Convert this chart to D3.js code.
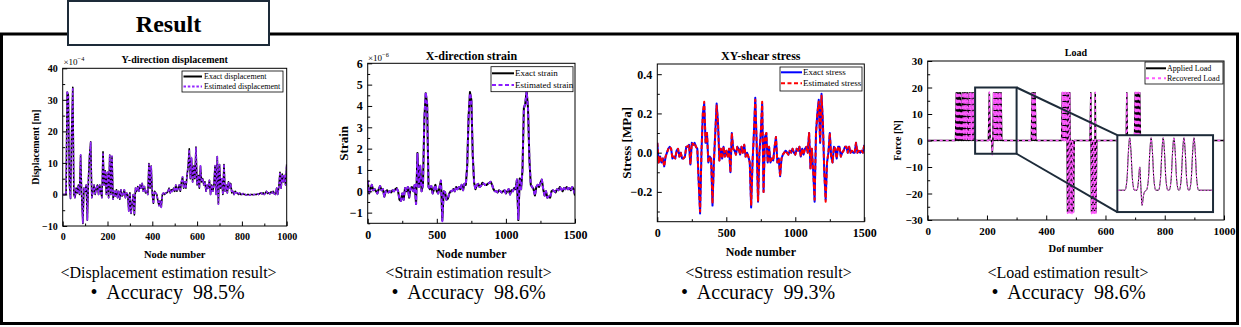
<!DOCTYPE html>
<html>
<head>
<meta charset="utf-8" />
<title>result</title>
<style>
html, body { margin:0; padding:0; background:#ffffff; }
svg { display:block; font-family:'Liberation Serif','Times New Roman',serif; }
</style>
</head>
<body>
<script src="https://cdn.jsdelivr.net/npm/d3@7"></script>
<script>

//=======================================
// data
//=======================================

// Y-direction displacement (x1e-4 m), node step 5, 0..1000
const dispNode = d3.range(0, 1001, 5);
const dispExact = [
  0,0,0,0,32.5,31.5,3,-1.3,20,34,
  0,-1,2,0.5,3,0,12.5,-1,-9.2,2,
  1,3,-8.2,5,12.5,16.7,-1,1,3,0,
  2,3,0,3,1,-1,13.5,3,7.5,0,
  7,-1,12.5,0,12,-1.5,1,-0.5,1.5,-1,
  1,-1.5,1.5,-0.5,0,1.5,-1,0.5,0,-5.2,
  0.5,-6,-3,0,-6.5,2,1,2.5,1,3,
  2,3.5,1,2.5,0.5,1,0,9.8,2,9,
  0,-2.8,1,0.5,0,-2,-3.5,-2,-4,0,
  0.5,0,0.5,0.5,1,2,0.5,1.5,1,2,
  1,3,1,2,3,1,4,5.5,2,4,
  2,6,9,14.5,5,11.5,4,9,5,15,
  3,6,2,9,4,5,3,4,1,3,
  2,4.5,0,3,1,3,9,0,12,-3,
  9.5,2,5,0,9.5,1,3,0.5,4,2,
  3.5,0.5,1,0,1,0.5,0.5,0,0.5,0,
  0,0.3,0,0,-0.2,0,0,-0.2,0,0,
  -0.1,0,0,0,0.2,0,0.3,0.5,0.2,0.5,
  0,0.5,1,0.3,0.5,0.2,0.8,0.5,1,0.2,
  0,2,0,2.5,7,2,6.5,4,6,3,
  9.5
];
const dispEstimated = [
  0,0,0,0,32.8,31.2,3.2,-1.4,20.3,33.9,
  0,-1,2,0.5,3,0,12.6,-1,-9,2,
  1,3,-8.1,5,12.4,16.5,-1,1,3,0,
  2,3,0,3,1,-1,13.3,3,7.6,0,
  7,-1,12.4,0,12.2,-1.5,1,-0.5,1.5,-1,
  1,-1.5,1.5,-0.5,0,1.5,-1,0.5,0,-5.3,
  0.5,-6.1,-3,0,-6.4,2,1,2.5,1,3,
  2,3.5,1,2.5,0.5,1,0,9.6,2,9.1,
  0,-2.9,1,0.5,0,-2,-3.6,-2,-4.1,0,
  0.5,0,0.5,0.5,1,2,0.5,1.5,1,2,
  1,3,1,2,3,1,4,5.6,2,4,
  2,6,9,14.2,5,11.7,4,9,5,14.8,
  3,6,2,9.1,4,5,3,4,1,3,
  2,4.5,0,3,1,3,9.2,0,12.2,-3.1,
  9.4,2,5,0,9.6,1,3,0.5,4,2,
  3.5,0.5,1,0,1,0.5,0.5,0,0.5,0,
  0,0.3,0,0,-0.2,0,0,-0.2,0,0,
  -0.1,0,0,0,0.2,0,0.3,0.5,0.2,0.5,
  0,0.5,1,0.3,0.5,0.2,0.8,0.5,1,0.2,
  0,2,0,2.6,7.1,2,6.4,4,6,3,
  9.6
];

// X-direction strain (x1e-6), node step 10, 0..1500
const strainNode = d3.range(0, 1501, 10);
const strainExact = [
  0.5,-0.1,0.1,0.3,0.05,0.1,0,-0.1,0.1,0.25,
  0.05,0.1,-0.25,0,0.05,-0.05,0,-0.05,0.05,0,
  0.1,0.15,0,-0.4,-0.45,-0.1,-0.4,0.15,0,0.2,
  -0.3,0.15,0.2,0,0.3,-0.6,1.8,0.2,1.2,0,
  0.3,3.4,4.6,4.1,0.2,0.1,0.25,-0.1,0.1,0.3,
  0,-0.1,0.2,0.5,-1.35,0,-0.05,-0.4,-0.35,-0.1,
  0,0,0.1,0,0.2,0.1,0.2,0.1,0.3,0.05,
  0.35,0.3,1.2,3.5,4.65,4.3,1.7,0.4,0.1,0.3,
  0.35,0.2,0.25,0.4,0.35,0.3,0.3,0.35,0.4,0.45,
  0.3,0.1,0,0,-0.05,0.05,0,-0.05,0,0.05,
  -0.1,0,0.1,-0.15,0.05,0,0.15,0.1,0.55,-1.35,
  0.6,0.1,1.0,3.9,4.1,4.7,3.9,1.5,0.3,0.2,
  0.1,-0.2,0.2,0.3,0.2,0.4,0.55,0.1,-0.2,0,
  -0.3,-0.25,-0.3,0,0.05,0,-0.05,0.1,0.05,0.2,
  0.1,0,0.15,0.1,0.2,0.1,0.15,0.05,0.2,0.1,
  -0.2
];
const strainEstimated = [
  0.5,-0.1,0.1,0.3,0.05,0.1,0,-0.1,0.1,0.25,
  0.05,0.1,-0.25,0,0.05,-0.05,0,-0.05,0.05,0,
  0.1,0.15,0,-0.4,-0.45,-0.1,-0.4,0.15,0,0.2,
  -0.3,0.15,0.2,0,0.3,-0.6,1.75,0.2,1.2,0,
  0.3,3.4,4.65,4.1,0.2,0.1,0.25,-0.1,0.1,0.3,
  0,-0.1,0.2,0.5,-1.4,0,-0.05,-0.4,-0.35,-0.1,
  0,0,0.1,0,0.2,0.1,0.2,0.1,0.3,0.05,
  0.35,0.3,1.2,3.5,4.6,4.3,1.7,0.4,0.1,0.3,
  0.35,0.2,0.25,0.4,0.35,0.3,0.3,0.35,0.4,0.45,
  0.3,0.1,0,0,-0.05,0.05,0,-0.05,0,0.05,
  -0.1,0,0.1,-0.15,0.05,0,0.15,0.1,0.55,-1.3,
  0.6,0.1,1.0,3.9,4.1,4.68,3.9,1.5,0.3,0.2,
  0.1,-0.2,0.2,0.3,0.2,0.4,0.55,0.1,-0.2,0,
  -0.3,-0.25,-0.3,0,0.05,0,-0.05,0.1,0.05,0.2,
  0.1,0,0.15,0.1,0.2,0.1,0.15,0.05,0.2,0.1,
  -0.2
];

// XY-shear stress (MPa), node step 10, 0..1500
const stressNode = d3.range(0, 1501, 10);
const stressExact = [
  0.05,-0.05,-0.02,-0.05,-0.03,-0.07,-0.02,0,0.02,0.03,
  0.02,-0.03,-0.02,-0.03,0.01,0.02,-0.02,0,-0.03,-0.03,
  -0.02,0.03,0.03,0.04,-0.06,0.05,0.04,0.05,0.03,0.02,
  -0.15,-0.31,0,0.2,0.25,0.05,0.1,-0.05,-0.02,-0.03,
  -0.27,-0.05,0.1,0.25,0.15,-0.04,0.02,-0.03,0.03,-0.02,
  0.01,-0.02,0.02,-0.1,0.1,0.02,0.01,-0.01,0.03,0.02,
  -0.01,0.03,0,0.04,-0.02,0,-0.02,-0.05,-0.28,-0.05,
  0.1,0.28,0.05,-0.25,0,0.1,0.25,-0.2,0.08,0.1,
  -0.05,0.03,-0.05,-0.03,-0.04,0.03,0.08,-0.05,-0.03,-0.12,
  -0.03,-0.01,0,0.01,0,-0.01,0.01,0,0.02,0,
  -0.01,0.02,0.01,0.03,-0.02,0.02,-0.01,0.02,0.03,0,
  0.1,-0.08,0.02,-0.1,-0.25,0.1,0.2,0.27,0.05,0.3,
  0.15,-0.1,-0.24,-0.05,0,0.1,-0.02,-0.05,0.03,0.02,
  -0.03,0.03,0.03,-0.02,0,0.01,0.03,0.03,0,0.03,
  0,0.01,0,0,0.05,0,0.01,0,0.01,0,
  0.04
];
const stressEstimated = [
  0.05,-0.05,-0.02,-0.05,-0.03,-0.07,-0.02,0,0.02,0.03,
  0.02,-0.03,-0.02,-0.03,0.01,0.02,-0.02,0,-0.03,-0.03,
  -0.02,0.03,0.03,0.04,-0.06,0.05,0.04,0.05,0.03,0.02,
  -0.15,-0.3,0,0.2,0.26,0.05,0.1,-0.05,-0.02,-0.03,
  -0.26,-0.05,0.1,0.24,0.15,-0.04,0.02,-0.03,0.03,-0.02,
  0.01,-0.02,0.02,-0.1,0.1,0.02,0.01,-0.01,0.03,0.02,
  -0.01,0.03,0,0.04,-0.02,0,-0.02,-0.05,-0.27,-0.05,
  0.1,0.27,0.05,-0.25,0,0.1,0.26,-0.2,0.08,0.1,
  -0.05,0.03,-0.05,-0.03,-0.04,0.03,0.08,-0.05,-0.03,-0.12,
  -0.03,-0.01,0,0.01,0,-0.01,0.01,0,0.02,0,
  -0.01,0.02,0.01,0.03,-0.02,0.02,-0.01,0.02,0.03,0,
  0.1,-0.08,0.02,-0.1,-0.24,0.1,0.2,0.26,0.05,0.29,
  0.15,-0.1,-0.25,-0.05,0,0.1,-0.02,-0.05,0.03,0.02,
  -0.03,0.03,0.03,-0.02,0,0.01,0.03,0.03,0,0.03,
  0,0.01,0,0,0.05,0,0.01,0,0.01,0,
  0.04
];

// Load (N) by dof
const loadDof = [
  0, 94,96.5,99,101.5,104,106.5,109,111.5,114,
  116,118.5,121,123.5,126,128.5,131,133.5,136,
  137.5,140,142.5,145,147.5,150,152.5,155,157.5,
  205,208,211,216,218,220,222.5,225,227.5,230,232.5,235,237.5,240,242.5,245,247.5,250,
  350,352.5,355,357.5,360,362.5,365,
  452,454.5,457,459.5,462,464.5,467,469.5,472,474.5,477,479.5,482,484.5,487,489.5,492,494.5,
  548,550.5,553,555.5,558,560.5,563,565.5,568,570.5,
  670,672,674,
  698,700.5,703,705.5,708,710.5,713,715.5,718,
  1000
];
const loadApplied = [
  0, 0,18,0,18,0,18,0,18,0,
  0,18,0,18,0,18,0,18,0,
  0,18,0,18,0,18,0,18,0,
  0,18,0,0,-5,0,18,0,18,0,18,0,18,0,18,0,18,0,
  0,18,0,18,0,18,0,
  0,18,0,18,0,18,0,18,-27,18,-27,18,-27,0,-27,0,-27,0,
  0,18,-27,0,-27,0,-27,18,-27,0,
  0,18,0,
  0,18,0,18,0,18,0,18,0,
  0
];
const loadRecovered = [
  0, 0,18.2,0,18.1,0,18.2,0,18,0,
  0,18.2,0,18.1,0,18.2,0,18,0,
  0,18.1,0,18.2,0,18,0,18.2,0,
  0,18.3,0,0,-5.4,0,18.2,0,18.1,0,18.2,0,18,0,18.2,0,18.1,0,
  0,18.2,0,18.1,0,18.2,0,
  0,18.2,0,18.1,0,18.2,0,18,-27.5,18.1,-27.8,18.2,-27.4,0,-27.6,0,-27.8,0,
  0,18.3,-27.6,0,-27.9,0,-27.5,18.2,-27.8,0,
  0,18.3,0,
  0,18.2,0,18.1,0,18.2,0,18,0,
  0
];

// zoomed part of the load (inset)
const insetDof = [160,170,173,175,177,179,181,184,
  188,190,192,193.5,195.5,197.5,199.5,202,
  205,207,209,211,213,216,
  220,223,225,227,229,231,234,
  236,239,241,243,245,247,250,
  251,254,256,258,260,262,265,
  266,269,271,273,275,277,280,300];
const insetForce = [0,0,4,13,18,13,4,0,
  0,3,8,2,-5.2,-2,-0.4,0,
  4,13,18,13,4,0,
  0,4,13,18,13,4,0,
  0,4,13,18,13,4,0,
  0,4,13,18,13,4,0,
  0,4,13,18,13,4,0,0];

const captions = ['<Displacement estimation result>', '<Strain estimation result>', '<Stress estimation result>', '<Load estimation result>'];
const accuracy = ['98.5%', '98.6%', '99.3%', '98.6%'];


//=======================================
// page frame
//=======================================

const svg = d3.select('body').append('svg')
  .attr('width', 1241).attr('height', 327);

svg.append('rect')
  .attr('x', 1.5).attr('y', 34).attr('width', 1236).attr('height', 289.5)
  .attr('fill', 'none').attr('stroke', '#000').attr('stroke-width', 3);

svg.append('rect')
  .attr('x', 68).attr('y', 1).attr('width', 201).attr('height', 44)
  .attr('fill', '#fff').attr('stroke', '#1d2b39').attr('stroke-width', 2);

svg.append('text')
  .attr('x', 168.5).attr('y', 32).attr('text-anchor', 'middle')
  .attr('font-size', 24).attr('font-weight', 'bold').text('Result');


//=======================================
// panels
//=======================================

const panels = [
  {
    key: 'disp', left: 62.7, right: 286.7, top: 68.3, bottom: 226,
    xDomain: [0, 1000], xTicks: [0,200,400,600,800,1000], xMinor: [100,300,500,700,900],
    yDomain: [-10, 40], yTicks: [-10,0,10,20,30,40], yMinor: [-5,5,15,25,35], yFormat: d3.format('d'),
    tickFont: 10, title: 'Y-direction displacement', titleSize: 10, titleY: 63,
    xLabel: 'Node number', xLabelSize: 10.5, xLabelY: 258,
    yLabel: 'Displacement [m]', yLabelSize: 10, yLabelX: 35,
    expo: '\u22124', expoX: 63.5, expoY: 65, expoSize: 9,
    series: [
      {x: dispNode, y: dispExact, color: '#000', width: 1.6},
      {x: dispNode, y: dispEstimated, color: '#9326ff', width: 1.6, dash: '2.5 1.8'}
    ],
    legend: {x: 182, y: 71, w: 101, h: 21, rows: [76.5, 86.5], lineX: [183.5, 202], textX: 204, size: 8,
      labels: ['Exact displacement', 'Estimated displacement']}
  },
  {
    key: 'strain', left: 367.7, right: 575, top: 63.3, bottom: 223.3,
    xDomain: [0, 1500], xTicks: [0,500,1000,1500], xMinor: [250,750,1250],
    yDomain: [-1.5, 6], yTicks: [-1,0,1,2,3,4,5,6], yMinor: [-1.5,-0.5,0.5,1.5,2.5,3.5,4.5,5.5], yFormat: d3.format('d'),
    tickFont: 12, title: 'X-direction strain', titleSize: 12, titleY: 60,
    xLabel: 'Node number', xLabelSize: 12, xLabelY: 258,
    yLabel: 'Strain', yLabelSize: 13, yLabelX: 343,
    expo: '\u22126', expoX: 368, expoY: 61, expoSize: 9,
    series: [
      {x: strainNode, y: strainExact, color: '#000', width: 2},
      {x: strainNode, y: strainEstimated, color: '#8a1cff', width: 2, dash: '4 2.5'}
    ],
    legend: {x: 491, y: 66.7, w: 82, h: 25, rows: [73.3, 85], lineX: [492, 514], textX: 515, size: 9,
      labels: ['Exact strain', 'Estimated strain']}
  },
  {
    key: 'stress', left: 657.3, right: 864.3, top: 64, bottom: 221.7,
    xDomain: [0, 1500], xTicks: [0,500,1000,1500], xMinor: [250,750,1250],
    yDomain: [-0.352, 0.452], yTicks: [-0.2,0,0.2,0.4], yMinor: [-0.3,-0.1,0.1,0.3], yFormat: d3.format('.1f'),
    tickFont: 12, title: 'XY-shear stress', titleSize: 12, titleY: 60,
    xLabel: 'Node number', xLabelSize: 12, xLabelY: 256,
    yLabel: 'Stress [MPa]', yLabelSize: 13, yLabelX: 626,
    series: [
      {x: stressNode, y: stressExact, color: '#0000ff', width: 2},
      {x: stressNode, y: stressEstimated, color: '#ff0000', width: 2, dash: '4 2.5'}
    ],
    legend: {x: 780, y: 67, w: 82, h: 24, rows: [72.3, 83.3], lineX: [781, 802], textX: 803, size: 9,
      labels: ['Exact stress', 'Estimated stress']}
  },
  {
    key: 'load', left: 927.7, right: 1224, top: 61, bottom: 220,
    xDomain: [0, 1000], xTicks: [0,200,400,600,800,1000], xMinor: [100,300,500,700,900],
    yDomain: [-30, 30], yTicks: [-30,-20,-10,0,10,20,30], yMinor: [-25,-15,-5,5,15,25], yFormat: d3.format('d'),
    tickFont: 11, title: 'Load', titleSize: 10, titleY: 56,
    xLabel: 'Dof number', xLabelSize: 10.5, xLabelY: 252,
    yLabel: 'Force [N]', yLabelSize: 10, yLabelX: 897,
    series: [
      {x: loadDof, y: loadApplied, color: '#000', width: 1.5},
      {x: loadDof, y: loadRecovered, color: '#ff5cff', width: 1.4, dash: '3 3'}
    ],
    legend: {x: 1145, y: 62, w: 78, h: 22, rows: [68.3, 78.3], lineX: [1146, 1166], textX: 1167, size: 8,
      labels: ['Applied Load', 'Recovered Load']},
    inset: true
  }
];

panels.forEach(drawPanel);

// captions
const capX = [168.5, 468.6, 768.5, 1068],
      accX = [167.5, 468.5, 758, 1068.5];

svg.append('g').selectAll('text').data(captions).enter()
  .append('text')
    .attr('x', (d,i)=>capX[i]).attr('y', 278)
    .attr('text-anchor', 'middle').attr('font-size', 16)
    .text(d=>d);

svg.append('g').selectAll('text').data(accuracy).enter()
  .append('text')
    .attr('x', (d,i)=>accX[i]).attr('y', 299)
    .attr('text-anchor', 'middle').attr('font-size', 20)
    .style('white-space', 'pre')
    .text(d=>'\u2022  Accuracy  ' + d);


//====================================================================================
//
//====================================================================================

function drawPanel(p) {

  let x = d3.scaleLinear().domain(p.xDomain).range([p.left, p.right]),
      y = d3.scaleLinear().domain(p.yDomain).range([p.bottom, p.top]);

  let g = svg.append('g').attr('class', p.key);

  g.append('clipPath').attr('id', 'clip-' + p.key)
    .append('rect')
      .attr('x', p.left).attr('y', p.top)
      .attr('width', p.right - p.left).attr('height', p.bottom - p.top);

  // lines
  let plot = g.append('g').attr('clip-path', 'url(#clip-' + p.key + ')');
  p.series.forEach(s => {
    plot.append('path')
      .attr('d', d3.line().x((d,i)=>x(s.x[i])).y(d=>y(d))(s.y))
      .attr('fill', 'none')
      .attr('stroke', s.color)
      .attr('stroke-width', s.width)
      .attr('stroke-linejoin', 'round')
      .attr('stroke-dasharray', s.dash || null);
  });

  if (p.inset) drawInset(g, x, y);

  // frame
  g.append('rect')
    .attr('x', p.left).attr('y', p.top)
    .attr('width', p.right - p.left).attr('height', p.bottom - p.top)
    .attr('fill', 'none').attr('stroke', '#000').attr('stroke-width', 1);

  // axes
  let styleAxis = sel => {
    sel.select('.domain').remove();
    sel.attr('font-family', null).attr('font-size', p.tickFont).attr('font-weight', 'bold');
    sel.selectAll('text').attr('fill', '#000');
    sel.selectAll('line').attr('stroke', '#000');
  };

  g.append('g').attr('transform', 'translate(0,' + p.bottom + ')')
    .call(d3.axisBottom(x).tickValues(p.xMinor).tickSize(-2.5).tickFormat(''))
    .call(styleAxis);
  g.append('g').attr('transform', 'translate(0,' + p.bottom + ')')
    .call(d3.axisBottom(x).tickValues(p.xTicks).tickSize(-4.5).tickPadding(7).tickFormat(d3.format('d')))
    .call(styleAxis);
  g.append('g').attr('transform', 'translate(' + p.left + ',0)')
    .call(d3.axisLeft(y).tickValues(p.yMinor).tickSize(-2.5).tickFormat(''))
    .call(styleAxis);
  g.append('g').attr('transform', 'translate(' + p.left + ',0)')
    .call(d3.axisLeft(y).tickValues(p.yTicks).tickSize(-4.5).tickPadding(5).tickFormat(p.yFormat))
    .call(styleAxis);

  // titles
  g.append('text')
    .attr('x', (p.left + p.right) / 2).attr('y', p.titleY)
    .attr('text-anchor', 'middle').attr('font-weight', 'bold').attr('font-size', p.titleSize)
    .text(p.title);

  g.append('text')
    .attr('x', (p.left + p.right) / 2).attr('y', p.xLabelY)
    .attr('text-anchor', 'middle').attr('font-weight', 'bold').attr('font-size', p.xLabelSize)
    .text(p.xLabel);

  g.append('text')
    .attr('transform', 'translate(' + [p.yLabelX, (p.top + p.bottom) / 2] + ') rotate(-90)')
    .attr('dy', '0.35em')
    .attr('text-anchor', 'middle').attr('font-weight', 'bold').attr('font-size', p.yLabelSize)
    .text(p.yLabel);

  if (p.expo) {
    g.append('text')
      .attr('x', p.expoX).attr('y', p.expoY).attr('font-size', p.expoSize)
      .call(t => {
        t.append('tspan').text('\u00d710');
        t.append('tspan').attr('font-size', p.expoSize * 0.7).attr('dy', -4).text(p.expo);
      });
  }

  // legend
  let L = p.legend;
  g.append('rect')
    .attr('x', L.x).attr('y', L.y).attr('width', L.w).attr('height', L.h)
    .attr('fill', '#fff').attr('stroke', '#000').attr('stroke-width', 0.8);

  L.rows.forEach((ry, i) => {
    let s = p.series[i];
    g.append('line')
      .attr('x1', L.lineX[0]).attr('x2', L.lineX[1]).attr('y1', ry).attr('y2', ry)
      .attr('stroke', s.color).attr('stroke-width', 2)
      .attr('stroke-dasharray', s.dash || null);
    g.append('text')
      .attr('x', L.textX).attr('y', ry).attr('dy', '0.35em')
      .attr('font-size', L.size).text(L.labels[i]);
  });
}


function drawInset(g, x, y) {

  let navy = '#1d2b39';

  // zoom window and connectors
  g.append('rect')
    .attr('x', x(160)).attr('y', y(20))
    .attr('width', x(300) - x(160)).attr('height', y(-5) - y(20))
    .attr('fill', 'none').attr('stroke', navy).attr('stroke-width', 2);

  g.append('line')
    .attr('x1', x(300)).attr('y1', y(20)).attr('x2', x(640)).attr('y2', y(2))
    .attr('stroke', navy).attr('stroke-width', 2);
  g.append('line')
    .attr('x1', x(300)).attr('y1', y(-5)).attr('x2', x(640)).attr('y2', y(-27))
    .attr('stroke', navy).attr('stroke-width', 2);

  g.append('rect')
    .attr('x', x(640)).attr('y', y(2))
    .attr('width', x(963) - x(640)).attr('height', y(-27) - y(2))
    .attr('fill', '#fff').attr('stroke', navy).attr('stroke-width', 2);

  let ix = d3.scaleLinear().domain([160, 300]).range([x(640) + 1, x(963) - 1]),
      iy = d3.scaleLinear().domain([-7.5, 18.9]).range([y(-27), y(2)]);

  let line = d3.line().x((d,i)=>ix(insetDof[i])).y(d=>iy(d)).curve(d3.curveMonotoneX);

  g.append('path').attr('d', line(insetForce))
    .attr('fill', 'none').attr('stroke', '#000').attr('stroke-width', 1);
  g.append('path').attr('d', line(insetForce))
    .attr('fill', 'none').attr('stroke', '#ff5cff').attr('stroke-width', 1)
    .attr('stroke-dasharray', '2 1.5');
}

</script>
</body>
</html>
